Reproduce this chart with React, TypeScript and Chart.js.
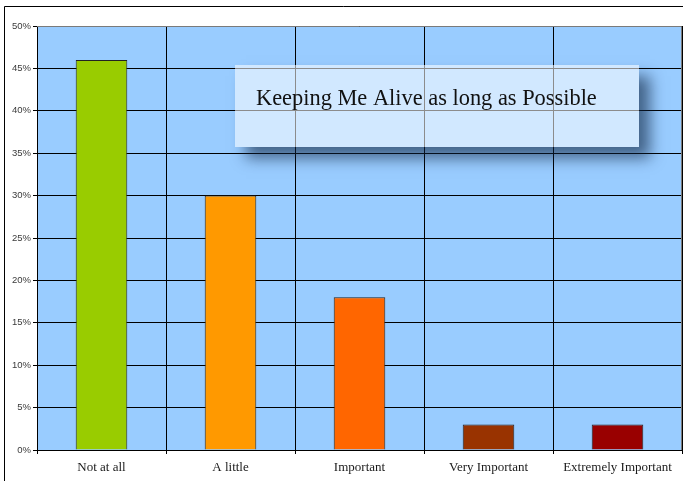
import { useEffect, useRef } from "react";
import { Chart, registerables } from "chart.js";

Chart.register(...registerables);

// Survey answers and their share of respondents (%)
const categories = ["Not at all", "A little", "Important", "Very Important", "Extremely Important"];
const shares = [46, 30, 18, 3, 3];
const barColors = ["#99CC00", "#FF9900", "#FF6600", "#993300", "#990000"];
const chartTitle = "Keeping Me Alive as long as Possible";

const WIDTH = 683;
const HEIGHT = 481;

// Page background, outer frame and plot fill
const backdrop = {
  id: "backdrop",
  beforeDraw(chart: any) {
    const { ctx, chartArea: a } = chart;
    ctx.save();
    ctx.fillStyle = "#ffffff";
    ctx.fillRect(0, 0, chart.width, chart.height);
    ctx.strokeStyle = "#000000";
    ctx.lineWidth = 1;
    ctx.beginPath();
    ctx.moveTo(4.5, chart.height);
    ctx.lineTo(4.5, 6.5);
    ctx.lineTo(chart.width, 6.5);
    ctx.stroke();
    ctx.fillStyle = "#99CCFF";
    ctx.fillRect(a.left, a.top, a.right - a.left, a.bottom - a.top);
    ctx.restore();
  },
};

// Floating caption box with a soft drop shadow
const captionBox = {
  id: "captionBox",
  afterDraw(chart: any) {
    const { ctx, chartArea: a } = chart;
    ctx.save();
    // plot frame (top and right edges)
    ctx.strokeStyle = "#7a7a7a";
    ctx.lineWidth = 1;
    ctx.beginPath();
    ctx.moveTo(a.left, a.top + 0.5);
    ctx.lineTo(a.right - 0.5, a.top + 0.5);
    ctx.lineTo(a.right - 0.5, a.bottom);
    ctx.stroke();

    const bx = 235, by = 65, bw = 404, bh = 82;
    // shadow only outside the box
    ctx.save();
    ctx.beginPath();
    ctx.rect(0, 0, chart.width, chart.height);
    ctx.rect(bx, by, bw, bh);
    ctx.clip("evenodd");
    ctx.shadowColor = "rgba(15, 35, 65, 0.62)";
    ctx.shadowBlur = 14;
    ctx.shadowOffsetX = 11;
    ctx.shadowOffsetY = 11;
    ctx.fillStyle = "#000";
    ctx.fillRect(bx, by, bw, bh);
    ctx.restore();

    ctx.fillStyle = "rgba(255, 255, 255, 0.55)";
    ctx.fillRect(bx, by, bw, bh);

    // caption text, sized to span its line
    const targetWidth = 341;
    ctx.font = "20px 'Liberation Serif'";
    const w20 = ctx.measureText(chartTitle).width;
    const size = (20 * targetWidth) / w20;
    ctx.font = `${size.toFixed(2)}px 'Liberation Serif'`;
    ctx.fillStyle = "#111111";
    ctx.textBaseline = "alphabetic";
    ctx.textAlign = "left";
    ctx.fillText(chartTitle, 256, 105);
    ctx.restore();
  },
};

export default function App() {
  const canvasRef = useRef<HTMLCanvasElement | null>(null);

  useEffect(() => {
    if (!canvasRef.current) return;
    const chart = new Chart(canvasRef.current, {
      type: "bar",
      data: {
        labels: categories,
        datasets: [
          {
            data: shares,
            backgroundColor: barColors,
            borderColor: "#222222",
            borderWidth: 1,
            borderSkipped: "bottom",
            categoryPercentage: 1,
            barPercentage: 0.4,
          },
        ],
      },
      plugins: [backdrop, captionBox],
      options: {
        responsive: false,
        animation: false,
        devicePixelRatio: 1,
        layout: { padding: { left: 0, top: 26, right: 1, bottom: 0 } },
        plugins: {
          legend: { display: false },
          title: { display: false },
          tooltip: { enabled: false },
        },
        scales: {
          x: {
            grid: {
              color: "#000000",
              lineWidth: 1,
              tickLength: 4,
              offset: true,
            },
            border: { color: "#000000" },
            ticks: {
              color: "#1a1a1a",
              font: { family: "'Liberation Serif'", size: 13 },
              padding: 6,
              maxRotation: 0,
              autoSkip: false,
            },
            afterFit(scale: any) {
              scale.height = 31;
            },
          },
          y: {
            min: 0,
            max: 50,
            grid: { color: "#000000", lineWidth: 1, tickLength: 4 },
            border: { color: "#000000" },
            ticks: {
              stepSize: 5,
              color: "#3a3a3a",
              font: { family: "'Liberation Sans'", size: 9.5 },
              padding: 2,
              callback: (v: any) => `${v}%`,
            },
            afterFit(scale: any) {
              scale.width = 37;
            },
          },
        },
      },
    });
    return () => chart.destroy();
  }, []);

  return (
    <div style={{ position: "fixed", left: 0, top: 0, width: WIDTH, height: HEIGHT }}>
      <canvas ref={canvasRef} width={WIDTH} height={HEIGHT} style={{ display: "block" }} />
    </div>
  );
}
